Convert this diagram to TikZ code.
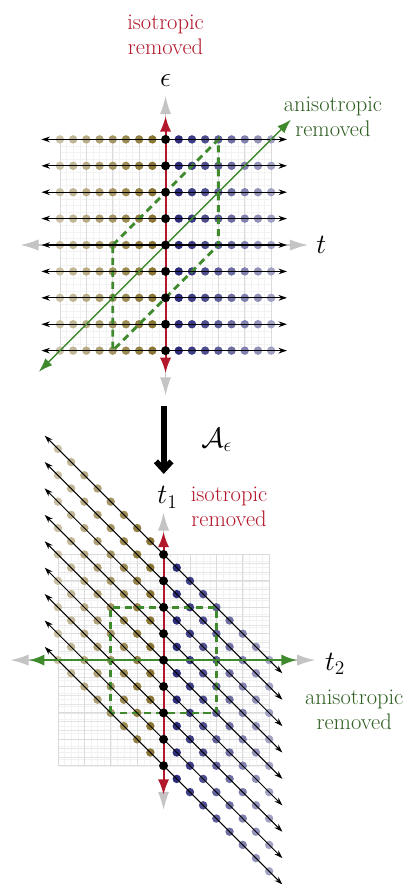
\documentclass[tikz,border=0pt]{standalone}
\usepackage{fontspec}
\usepackage{tikz}
\usetikzlibrary{arrows.meta}
\definecolor{isored}{HTML}{B3172B}
\definecolor{anisogreen}{HTML}{2F5F22}
\definecolor{arrgreen}{HTML}{3F8A2C}
\definecolor{axgray}{HTML}{C4C4C4}
\definecolor{dotleft}{HTML}{8A7534}
\definecolor{dotright}{HTML}{2C2C7A}
\newcommand{\axlab}[1]{\scalebox{1.15}{#1}}

\begin{document}
\begin{tikzpicture}[x=0.66cm,y=0.66cm,
  lbl/.style={font=\fontsize{16}{17.8}\selectfont,align=center},
  mlbl/.style={font=\LARGE},
  majgrid/.style={draw=gray!28,line width=0.6pt},
  mingrid/.style={draw=gray!10,line width=0.3pt},
  greyax/.style={draw=axgray,line width=1.2pt,{Latex[length=13pt,width=8pt]}-{Latex[length=13pt,width=8pt]}},
  redax/.style={draw=isored,line width=1.4pt,{Latex[length=11pt,width=8pt]}-{Latex[length=11pt,width=8pt]}},
  greenax/.style={draw=arrgreen,line width=1.5pt,{Latex[length=11pt,width=8pt]}-{Latex[length=11pt,width=8pt]}},
  greendiag/.style={draw=arrgreen,line width=1pt,{Latex[length=10pt,width=7pt]}-{Latex[length=10pt,width=7pt]}},
  rowline/.style={black,line width=0.9pt,{Stealth[length=6pt,width=4pt]}-{Stealth[length=6pt,width=4pt]}},
  diagline/.style={black,line width=0.7pt,{Stealth[length=6pt,width=4pt]}-{Stealth[length=6pt,width=4pt]}},
  domainbox/.style={draw=arrgreen,line width=2pt,dash pattern=on 5pt off 3.5pt},
  bigarr/.style={line width=4pt,-{Straight Barb[length=6pt,width=11pt]}}]
\useasboundingbox (-6.27,-24.2) rectangle (9.11,9.28);
% ---- top: (t, epsilon) plane
\draw[mingrid,step=0.25] (-4,-4) grid (4,4);
\draw[majgrid,step=1] (-4,-4) grid (4,4);
\coordinate (tL) at (-5.5,0); \coordinate (tR) at (5.4,0);
\coordinate (eB) at (0,-5.7); \coordinate (eT) at (0,5.65);
\draw[greyax] (tL) -- (tR);
\draw[greyax] (eB) -- (eT);
\foreach \e in {-4,...,4}{
  \foreach \k in {1,...,8}{
    \pgfmathsetmacro\tx{0.5*\k}
    \pgfmathtruncatemacro\p{100-8*(\k-1)}
    \fill[dotright!\p!white] (\tx,\e) circle (0.16);
    \fill[dotleft!\p!white] (-\tx,\e) circle (0.16);
  }}
\draw[domainbox] (-2,0) -- (2,4) -- (2,0) -- (-2,-4) -- cycle;
\foreach \e in {-4,...,4}{
  \coordinate (rl\e) at (-4.7,\e); \coordinate (rr\e) at (4.6,\e);
  \draw[rowline] (rl\e) -- (rr\e);}
\coordinate (iB) at (0,-4.85); \coordinate (iT) at (0,4.88);
\draw[redax] (iB) -- (iT);
\coordinate (aB) at (-4.8,-4.8); \coordinate (aT) at (4.75,4.75);
\draw[greendiag] (aB) -- (aT);
\foreach \e in {-4,...,4} \fill (0,\e) circle (0.17);
\node[lbl,text=isored] (isoT) at (0,7.95) {isotropic\\removed};
\node[mlbl] (epsl) at (0,6.25) {\axlab{$\epsilon$}};
\node[lbl,text=anisogreen] (anisoT) at (6.34,4.85) {anisotropic\\removed};
\node[mlbl] (tl) at (5.9,0) {\axlab{$t$}};
% ---- map
\coordinate (mapA) at (-0.07,-6.1); \coordinate (mapB) at (-0.07,-8.67);
\draw[bigarr] (mapA) -- (mapB);
\node[mlbl] (mapl) at (1.94,-7.39) {\axlab{$\mathcal{A}_\epsilon$}};
% ---- bottom: (t2, t1) plane
\begin{scope}[shift={(-0.076,-15.72)}]
\draw[mingrid,step=0.25] (-4,-4) grid (4,4);
\foreach \y in {-12,...,12} \draw[gray!20,line width=0.4pt] (-4,\y/3) -- (4,\y/3);
\draw[majgrid,step=1] (-4,-4) grid (4,4);
\coordinate (sL) at (-5.8,0); \coordinate (sR) at (5.75,0);
\coordinate (fB) at (0,-5.68); \coordinate (fT) at (0,5.6);
\draw[greyax] (sL) -- (sR);
\draw[greyax] (fB) -- (fT);
\foreach \e in {-4,...,4}{
  \foreach \k in {1,...,8}{
    \pgfmathsetmacro\tx{0.5*\k}
    \pgfmathsetmacro\ya{\e-\tx}
    \pgfmathsetmacro\yb{\e+\tx}
    \pgfmathtruncatemacro\p{100-8*(\k-1)}
    \fill[dotright!\p!white] (\tx,\ya) circle (0.16);
    \fill[dotleft!\p!white] (-\tx,\yb) circle (0.16);
  }}
\draw[domainbox] (-2,-2) rectangle (2,2);
\foreach \e in {-4,...,4}{
  \coordinate (dl\e) at (-4.5,\e+4.5); \coordinate (dr\e) at (4.5,\e-4.5);
  \draw[diagline] (dl\e) -- (dr\e);}
\coordinate (jB) at (0,-5.1); \coordinate (jT) at (0,4.86);
\draw[redax] (jB) -- (jT);
\coordinate (bL) at (-5.1,0); \coordinate (bR) at (5.05,0);
\draw[greenax] (bL) -- (bR);
\foreach \e in {-4,...,4} \fill (0,\e) circle (0.17);
\node[mlbl] (t1l) at (0.15,6.16) {\axlab{$t_1$}};
\node[lbl,text=isored] (isoB) at (2.48,5.81) {isotropic\\removed};
\node[mlbl] (t2l) at (6.5,-0.15) {\axlab{$t_2$}};
\node[lbl,text=anisogreen] (anisoB) at (7.22,-1.9) {anisotropic\\removed};
\end{scope}
\end{tikzpicture}
\end{document}
